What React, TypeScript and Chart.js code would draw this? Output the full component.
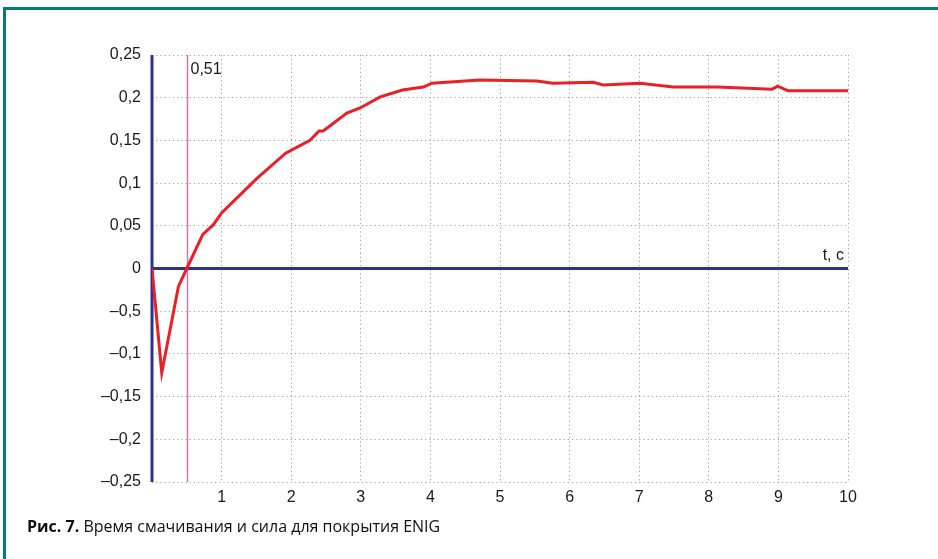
import React, { useEffect, useRef } from "react";
import { Chart, registerables } from "chart.js";

Chart.register(...registerables);

const timeValues = [0, 0.14, 0.38, 0.5, 0.73, 0.88, 1.0, 1.5, 1.92, 2.27, 2.4, 2.46, 2.8, 2.99, 3.28, 3.6, 3.9, 4.02, 4.71, 5.53, 5.76, 6.34, 6.48, 7.01, 7.49, 8.12, 8.91, 8.99, 9.14, 10];
const forceValues = [0, -0.122, -0.021, 0, 0.04, 0.051, 0.065, 0.105, 0.135, 0.15, 0.161, 0.161, 0.182, 0.188, 0.201, 0.209, 0.2125, 0.217, 0.2207, 0.2195, 0.217, 0.218, 0.215, 0.217, 0.2125, 0.2125, 0.21, 0.2135, 0.208, 0.208];
const yTickValues = [0.25, 0.2, 0.15, 0.1, 0.05, 0, -0.05, -0.1, -0.15, -0.2, -0.25];
const yTickLabels = ["0,25", "0,2", "0,15", "0,1", "0,05", "0", "–0,5", "–0,1", "–0,15", "–0,2", "–0,25"];
const xTickLabels = ["", "1", "2", "3", "4", "5", "6", "7", "8", "9", "10"];
const markerTime = 0.51;
const markerLabel = "0,51";
const xAxisTitle = "t, c";
const captionBold = "Рис. 7.";
const captionText = " Время смачивания и сила для покрытия ENIG";

const AXIS_BLUE = "#2e3192";
const FONT = "'Liberation Sans', Arial, sans-serif";

const overlayPlugin = {
  id: "overlay",
  beforeDatasetsDraw(chart: any) {
    const { ctx, chartArea, scales } = chart;
    const xs = scales.x;
    const ys = scales.y;
    ctx.save();
    const mx = xs.getPixelForValue(markerTime);
    ctx.strokeStyle = "#c27bb4";
    ctx.lineWidth = 1.5;
    ctx.beginPath();
    ctx.moveTo(mx, chartArea.top);
    ctx.lineTo(mx, chartArea.bottom);
    ctx.stroke();
    const zy = ys.getPixelForValue(0);
    ctx.strokeStyle = AXIS_BLUE;
    ctx.lineWidth = 3;
    ctx.beginPath();
    ctx.moveTo(chartArea.left, zy);
    ctx.lineTo(chartArea.right, zy);
    ctx.stroke();
    ctx.beginPath();
    ctx.moveTo(chartArea.left, chartArea.top);
    ctx.lineTo(chartArea.left, chartArea.bottom);
    ctx.stroke();
    ctx.fillStyle = "#1a1a1a";
    ctx.font = "16px " + FONT;
    ctx.textBaseline = "middle";
    ctx.textAlign = "left";
    ctx.fillText(markerLabel, mx + 3, chartArea.top + 15);
    ctx.textAlign = "right";
    ctx.fillText(xAxisTitle, chartArea.right - 4, zy - 13);
    ctx.restore();
  },
};

export default function App() {
  const ref = useRef<HTMLCanvasElement>(null);
  useEffect(() => {
    document.body.style.margin = "0";
    const data = timeValues.map((t, i) => ({ x: t, y: forceValues[i] }));
    const chart = new Chart(ref.current!, {
      type: "scatter",
      data: {
        datasets: [
          {
            data,
            showLine: true,
            borderColor: "#ea1f27",
            borderWidth: 3,
            pointRadius: 0,
            tension: 0,
            fill: false,
          },
        ],
      },
      options: {
        animation: false,
        responsive: false,
        events: [],
        layout: { padding: { left: 0, top: 55, right: 90, bottom: 47 } },
        plugins: { legend: { display: false }, tooltip: { enabled: false } },
        scales: {
          x: {
            type: "linear",
            min: 0,
            max: 10,
            afterFit: (s: any) => { s.height = 30; },
            ticks: {
              stepSize: 1,
              padding: 6,
              color: "#1a1a1a",
              font: { size: 16, family: FONT },
              maxRotation: 0,
              callback: (v: any) => xTickLabels[Math.round(Number(v))] ?? "",
            },
            grid: { color: "#a0a0a0", lineWidth: 1, drawTicks: false },
            border: { display: false, dash: [1.2, 3] },
          },
          y: {
            type: "linear",
            min: -0.25,
            max: 0.25,
            afterFit: (s: any) => { s.width = 152; },
            afterBuildTicks: (s: any) => { s.ticks = yTickValues.map((v) => ({ value: v })); },
            ticks: {
              padding: 11,
              color: "#1a1a1a",
              font: { size: 16, family: FONT },
              callback: (v: any) => {
                const i = yTickValues.findIndex((t) => Math.abs(t - Number(v)) < 1e-6);
                return i >= 0 ? yTickLabels[i] : "";
              },
            },
            grid: { color: "#a0a0a0", lineWidth: 1, drawTicks: false },
            border: { display: false, dash: [1.2, 3] },
          },
        },
      },
      plugins: [overlayPlugin],
    });
    return () => chart.destroy();
  }, []);

  return (
    <div style={{ position: "fixed", left: 0, top: 0, width: 938, height: 559, background: "#fff", overflow: "hidden" }}>
      <div style={{ position: "absolute", left: 3, top: 7, width: 940, height: 560, borderTop: "3px solid #0d7a71", borderLeft: "3px solid #0d7a71" }} />
      <canvas ref={ref} width={938} height={559} style={{ position: "absolute", left: 0, top: 0 }} />
      <div style={{ position: "absolute", left: 27, top: 515, fontFamily: "'Open Sans', sans-serif", fontSize: 16, color: "#111", whiteSpace: "nowrap", letterSpacing: 0 }}>
        <b>{captionBold}</b>
        <span>{captionText}</span>
      </div>
    </div>
  );
}
